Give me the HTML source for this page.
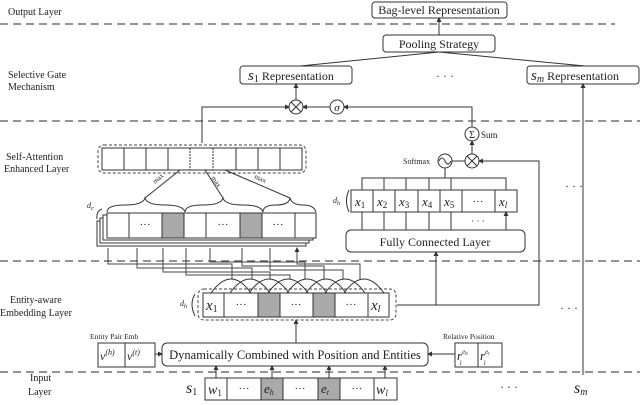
<!DOCTYPE html>
<html><head><meta charset="utf-8"><style>
html,body{margin:0;padding:0;background:#fff}
svg{display:block}
text{font-family:"Liberation Serif",serif;fill:#222}
.m{font-style:italic}
</style></head><body>
<svg width="640" height="405" viewBox="0 0 640 405" xmlns="http://www.w3.org/2000/svg">
<defs><marker id="a" markerWidth="5" markerHeight="5" refX="4" refY="2.5" orient="auto"><path d="M0,0L5,2.5L0,5z" fill="#333"/></marker></defs>
<g stroke="#555" stroke-width="1.2" stroke-dasharray="8,5" fill="none">
<line x1="0" y1="24" x2="615" y2="24"/><line x1="0" y1="121" x2="640" y2="121"/>
<line x1="0" y1="261" x2="640" y2="261"/><line x1="0" y1="372" x2="640" y2="372"/>
</g>
<g font-size="10">
<text x="8" y="15">Output Layer</text>
<text x="8" y="78">Selective Gate</text><text x="8" y="90">Mechanism</text>
<text x="6" y="160">Self-Attention</text><text x="4" y="172">Enhanced Layer</text>
<text x="10" y="303">Entity-aware</text><text x="0" y="316">Embedding Layer</text>
<text x="30" y="381">Input</text><text x="28" y="395">Layer</text>
</g>
<g fill="#fff" stroke="#333" stroke-width="1">
<rect x="372" y="2" width="135" height="16" rx="3"/>
<rect x="383" y="35" width="112" height="17" rx="3"/>
<rect x="240" y="66" width="112" height="18" rx="3"/>
<rect x="527" y="66" width="112" height="18" rx="3"/>
</g>
<g font-size="12">
<text x="439" y="14" text-anchor="middle">Bag-level Representation</text>
<text x="439" y="48" text-anchor="middle">Pooling Strategy</text>
<text x="248" y="80"><tspan class="m" font-size="15">s</tspan><tspan font-size="10" dy="2">1</tspan><tspan dy="-2"> Representation</tspan></text>
<text x="531" y="80"><tspan class="m" font-size="15">s</tspan><tspan font-size="10" class="m" dy="2">m</tspan><tspan dy="-2"> Representation</tspan></text>
<text x="445" y="80" text-anchor="middle">· · ·</text>
</g>
<g stroke="#333" stroke-width="1" fill="none">
<line x1="439" y1="35" x2="439" y2="18" marker-end="url(#a)"/>
<line x1="300" y1="66" x2="439" y2="52"/><line x1="585" y1="66" x2="439" y2="52"/>
<line x1="296" y1="100" x2="296" y2="84" marker-end="url(#a)"/>
<line x1="583" y1="375" x2="583" y2="84" marker-end="url(#a)"/>
<polyline points="202,143 202,107 289,107" marker-end="url(#a)"/>
<line x1="330" y1="107" x2="303" y2="107" marker-end="url(#a)"/>
<polyline points="472,127 472,107 344,107" marker-end="url(#a)"/>
<line x1="472" y1="154" x2="472" y2="141" marker-end="url(#a)"/>
<line x1="452" y1="161" x2="465" y2="161"/>
<polyline points="397,305 539,305 539,161 479,161" marker-end="url(#a)"/>
<line x1="436" y1="305" x2="436" y2="252" marker-end="url(#a)"/>
<line x1="296" y1="343" x2="296" y2="320" marker-end="url(#a)"/>
<line x1="155" y1="354" x2="162" y2="354" marker-end="url(#a)"/>
<line x1="455" y1="354" x2="428" y2="354" marker-end="url(#a)"/>
<line x1="216" y1="378" x2="216" y2="366" marker-end="url(#a)"/>
<line x1="272" y1="378" x2="272" y2="366" marker-end="url(#a)"/>
<line x1="329" y1="378" x2="329" y2="366" marker-end="url(#a)"/>
<line x1="385" y1="378" x2="385" y2="366" marker-end="url(#a)"/>
<polyline points="445,168 445,178"/>
<polyline points="362,190 362,178 506,178 506,190"/>
<line x1="384" y1="178" x2="384" y2="190"/><line x1="406" y1="178" x2="406" y2="190"/>
<line x1="429" y1="178" x2="429" y2="190"/><line x1="451" y1="178" x2="451" y2="190"/>
</g>
<g fill="#fff" stroke="#333" stroke-width="1">
<circle cx="296" cy="107" r="7"/><circle cx="337" cy="107" r="7"/>
<circle cx="472" cy="134" r="7"/><circle cx="445" cy="161" r="7"/><circle cx="472" cy="161" r="7"/>
</g>
<g stroke="#333" stroke-width="1"><path d="M291,102L301,112M301,102L291,112M467,156L477,166M477,156L467,166"/></g>
<path d="M439,161q3,-6 6,0t6,0" stroke="#333" fill="none"/>
<text x="337" y="111" text-anchor="middle" class="m" font-size="11">σ</text>
<text x="472" y="138" text-anchor="middle" font-size="10">Σ</text>
<text x="481" y="138" font-size="9">Sum</text>
<text x="403" y="164" font-size="8">Softmax</text>
<!-- right x row -->
<g fill="#fff" stroke="#333" stroke-width="1">
<rect x="351" y="190" width="166" height="22"/>
<rect x="346" y="230" width="179" height="22" rx="5"/>
</g>
<g stroke="#333"><path d="M373,190v22M395,190v22M418,190v22M440,190v22M462,190v22M495,190v22"/></g>
<g stroke="#333" fill="none">
<path d="M362,230v-18M384,230v-18M406,230v-18M429,230v-18M451,230v-18M506,230v-18" marker-end="url(#a)"/>
</g>
<g font-size="13" class="m">
<text x="355" y="206">x<tspan font-size="9" font-style="normal" dy="2">1</tspan></text>
<text x="377" y="206">x<tspan font-size="9" font-style="normal" dy="2">2</tspan></text>
<text x="399" y="206">x<tspan font-size="9" font-style="normal" dy="2">3</tspan></text>
<text x="422" y="206">x<tspan font-size="9" font-style="normal" dy="2">4</tspan></text>
<text x="444" y="206">x<tspan font-size="9" font-style="normal" dy="2">5</tspan></text>
<text x="499" y="206">x<tspan font-size="9" dy="2">l</tspan></text>
</g>
<text x="478" y="205" text-anchor="middle" font-size="11">···</text>
<text x="478" y="224" text-anchor="middle" font-size="9">· · ·</text>
<text x="435" y="246" text-anchor="middle" font-size="12">Fully Connected Layer</text>
<text x="333" y="203" font-size="8" class="m">d<tspan font-size="6" dy="2">h</tspan></text>
<path d="M349,190q-5,11 0,22" stroke="#333" fill="none"/>
<text x="565" y="190" font-size="12">· · ·</text>
<text x="560" y="312" font-size="12">· · ·</text>
<!-- top pooled box -->
<rect x="98" y="145" width="208" height="28" rx="6" fill="none" stroke="#444" stroke-dasharray="3,2"/>
<rect x="102" y="148" width="200" height="22" fill="#fff" stroke="#333"/>
<g stroke="#333"><path d="M124,148v22M146,148v22M168,148v22M236,148v22M258,148v22M280,148v22"/></g>
<g stroke="#333" stroke-dasharray="2,1"><path d="M190,148v22M213,148v22"/></g>
<!-- braces and max -->
<g stroke="#333" fill="none">
<path d="M107,212q0,-7 18,-7t20,-7q2,7 20,7t20,7"/>
<path d="M185,212q0,-7 18,-7t20,-7q2,7 20,7t20,7"/>
<path d="M263,212q0,-7 13,-7t14,-7q2,7 13,7t13,7"/>
<line x1="145" y1="198" x2="180" y2="170"/><line x1="223" y1="198" x2="205" y2="170"/><line x1="290" y1="198" x2="225" y2="170"/>
</g>
<g font-size="7"><text transform="translate(155,184) rotate(-40)">max</text>
<text transform="translate(211,178) rotate(55)">max</text>
<text transform="translate(254,178) rotate(25)">max</text></g>
<!-- stacked cells -->
<g fill="#fff" stroke="#333">
<rect x="97" y="221" width="209" height="25"/>
<rect x="100" y="218" width="209" height="25"/>
<rect x="103" y="215" width="210" height="25"/>
<rect x="107" y="213" width="209" height="25"/>
</g>
<g stroke="#333"><rect x="162" y="213" width="22" height="25" fill="#aaa"/><rect x="240" y="213" width="22" height="25" fill="#aaa"/>
<path d="M129,213v25M206,213v25M295,213v25"/></g>
<g font-size="11" text-anchor="middle"><text x="145" y="228">···</text><text x="223" y="228">···</text><text x="278" y="228">···</text></g>
<text x="87" y="208" font-size="8" class="m">d<tspan font-size="6" dy="2">c</tspan></text>
<path d="M102,209q-6,2 -5,10" stroke="#333" fill="none"/>
<!-- connectors from entity arcs -->
<g stroke="#444" fill="none">
<polyline points="108,258 108,264 232,264 232,279"/>
<polyline points="137,258 137,268 252,268 252,279"/>
<polyline points="163,258 163,272 270,272 270,279"/>
<polyline points="186,258 186,275 290,275 290,279"/>
<polyline points="210,258 210,262 305,262 305,279"/>
<polyline points="242,258 242,266 324,266 324,279"/>
<polyline points="270,258 270,270 343,270 343,279"/>
<polyline points="297,258 297,264 360,264 360,279"/>
<path d="M108,258v-10M137,258v-10M163,258v-10M186,258v-10M210,258v-10M242,258v-10M270,258v-10M297,258v-10" marker-end="url(#a)"/>
</g>
<!-- arcs -->
<g stroke="#333" fill="none">
<path d="M211,293q20,-28 40,0M230,293q20,-28 40,0M249,293q20,-28 40,0M268,293q20,-28 40,0M287,293q20,-28 40,0M306,293q20,-28 40,0M325,293q20,-28 40,0M344,293q20,-28 40,0"/>
</g>
<!-- entity row -->
<rect x="198" y="289" width="198" height="31" rx="6" fill="none" stroke="#444" stroke-dasharray="3,2"/>
<rect x="203" y="293" width="186" height="24" fill="#fff" stroke="#333"/>
<g stroke="#333"><rect x="258" y="293" width="22" height="24" fill="#aaa"/><rect x="313" y="293" width="22" height="24" fill="#aaa"/><path d="M224,293v24M368,293v24"/></g>
<g font-size="11" text-anchor="middle"><text x="241" y="308">···</text><text x="296" y="308">···</text><text x="351" y="308">···</text></g>
<text x="206" y="310" font-size="15" class="m">x<tspan font-size="10" font-style="normal" dy="2">1</tspan></text>
<text x="371" y="310" font-size="15" class="m">x<tspan font-size="10" dy="2">l</tspan></text>
<text x="180" y="306" font-size="8" class="m">d<tspan font-size="6" dy="2">h</tspan></text>
<path d="M195,294q-6,10 0,22" stroke="#333" fill="none"/>
<!-- dynamic -->
<text x="90" y="339" font-size="7.5">Entity Pair Emb</text>
<rect x="98" y="343" width="57" height="24" fill="#fff" stroke="#333"/><line x1="125" y1="343" x2="125" y2="367" stroke="#333"/>
<text x="100" y="360" font-size="12" class="m">v<tspan font-size="8" dy="-5">(h)</tspan></text>
<text x="127" y="360" font-size="12" class="m">v<tspan font-size="8" dy="-5">(t)</tspan></text>
<rect x="162" y="343" width="266" height="23" rx="5" fill="#fff" stroke="#333"/>
<text x="295" y="359" font-size="12.5" text-anchor="middle">Dynamically Combined with Position and Entities</text>
<text x="443" y="339" font-size="7.5">Relative Position</text>
<rect x="455" y="343" width="47" height="24" fill="#fff" stroke="#333"/><line x1="478" y1="343" x2="478" y2="367" stroke="#333"/>
<text x="457" y="360" font-size="13" class="m">r<tspan font-size="7" dy="-6">e</tspan><tspan font-size="5" dy="1">h</tspan><tspan font-size="7" dx="-8" dy="10">i</tspan></text>
<text x="480" y="360" font-size="13" class="m">r<tspan font-size="7" dy="-6">e</tspan><tspan font-size="5" dy="1">t</tspan><tspan font-size="7" dx="-6" dy="10">i</tspan></text>
<!-- input -->
<text x="186" y="393" font-size="16" class="m">s<tspan font-size="10" font-style="normal" dy="2">1</tspan></text>
<rect x="205" y="378" width="192" height="22" fill="#fff" stroke="#333"/>
<g stroke="#333"><rect x="261" y="378" width="22" height="22" fill="#aaa"/><rect x="318" y="378" width="22" height="22" fill="#aaa"/><path d="M227,378v22M374,378v22"/></g>
<g font-size="11" text-anchor="middle"><text x="244" y="392">···</text><text x="300" y="392">···</text><text x="357" y="392">···</text></g>
<text x="208" y="394" font-size="14" class="m">w<tspan font-size="9" font-style="normal" dy="2">1</tspan></text>
<text x="264" y="393" font-size="13" class="m">e<tspan font-size="8" dy="2">h</tspan></text>
<text x="321" y="393" font-size="13" class="m">e<tspan font-size="8" dy="2">t</tspan></text>
<text x="376" y="394" font-size="14" class="m">w<tspan font-size="9" dy="2">l</tspan></text>
<text x="500" y="391" font-size="12">· · ·</text>
<text x="574" y="393" font-size="16" class="m">s<tspan font-size="10" dy="2">m</tspan></text>
</svg>
</body></html>
